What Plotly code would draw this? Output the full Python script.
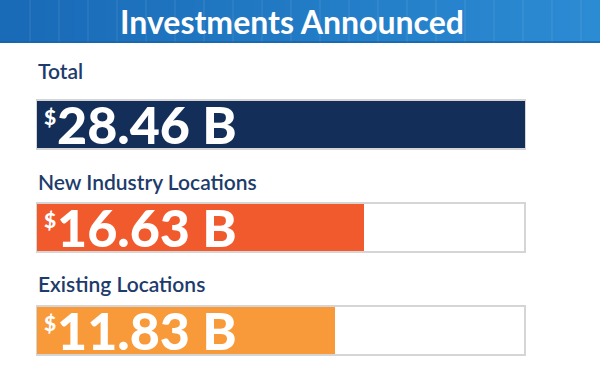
import plotly.graph_objects as go

# ---- data ----
categories = ["Total", "New Industry Locations", "Existing Locations"]
values_b = [28.46, 16.63, 11.83]          # printed amounts, billions of USD
fill_pct = [100, 67, 61]                  # share of each track that is filled
title = "Investments Announced"

# ---- styles ----
bar_colors = ["#132f59", "#f15a2c", "#f99a3a"]
label_color = "#1d3c6b"
track_line = "#d5d5d5"
W, H = 600, 384

ypos = list(range(len(categories)))

fig = go.Figure()
fig.add_trace(go.Bar(
    y=ypos, x=[100] * len(categories), orientation="h", width=0.47,
    marker=dict(color="white", line=dict(color=track_line, width=2)),
    hoverinfo="skip", showlegend=False,
))
fig.add_trace(go.Bar(
    y=ypos, x=fill_pct, orientation="h", width=0.45,
    marker=dict(color=bar_colors, line=dict(width=0)),
    customdata=values_b,
    hovertemplate="$%{customdata} B<extra></extra>", showlegend=False,
))

annotations = []
label_shift = [54, 46, 47]
for i, (cat, v) in enumerate(zip(categories, values_b)):
    annotations.append(dict(
        x=0, y=i, xref="x", yref="y", text=cat, showarrow=False,
        xanchor="left", yanchor="middle", xshift=-1, yshift=label_shift[i],
        font=dict(family="Lato", size=21, color=label_color, weight=600),
    ))
    annotations.append(dict(
        x=0, y=i, xref="x", yref="y", text="$", showarrow=False,
        xanchor="left", yanchor="middle", xshift=5, yshift=8,
        font=dict(family="Lato", size=21, color="white", weight=900),
    ))
    annotations.append(dict(
        x=0, y=i, xref="x", yref="y", text=f"{v:.2f} B", showarrow=False,
        xanchor="left", yanchor="middle", xshift=18, yshift=1,
        font=dict(family="Lato", size=52, color="white", weight=900),
    ))

# header title
annotations.append(dict(
    x=292 / W, y=1 - 21 / H, xref="paper", yref="paper", text=title,
    showarrow=False, xanchor="center", yanchor="middle",
    font=dict(family="Lato", size=32, color="white", weight=700),
))

# header band with horizontal gradient
shapes = []
n = 40
c0 = (0x19, 0x6a, 0xb7)
c1 = (0x2b, 0x8b, 0xd3)
for k in range(n):
    t = k / (n - 1)
    c = tuple(round(a + (b - a) * t) for a, b in zip(c0, c1))
    shapes.append(dict(
        type="rect", xref="paper", yref="paper",
        x0=k / n, x1=(k + 1) / n + 0.002, y0=1 - 43 / H, y1=1,
        fillcolor="rgb(%d,%d,%d)" % c, line=dict(width=0), layer="below",
    ))
# faint grid in header
for gx in range(30, W, 29):
    shapes.append(dict(
        type="line", xref="paper", yref="paper",
        x0=gx / W, x1=gx / W, y0=1 - 43 / H, y1=1,
        line=dict(color="rgba(255,255,255,0.06)", width=2), layer="below",
    ))
shapes.append(dict(
    type="line", xref="paper", yref="paper",
    x0=0, x1=1, y0=1 - 42 / H, y1=1 - 42 / H,
    line=dict(color="#1a64a8", width=1.5), layer="below",
))

px_per_x = (525 - 37) / 100
px_per_y = 103.0
fig.update_layout(
    width=W, height=H, margin=dict(l=0, r=0, t=0, b=0),
    paper_bgcolor="white", plot_bgcolor="white",
    barmode="overlay", bargap=0,
    xaxis=dict(range=[-37 / px_per_x, 100 + (W - 525) / px_per_x],
               visible=False, fixedrange=True),
    yaxis=dict(range=[2 + (H - 330.5) / px_per_y, -124.5 / px_per_y],
               visible=False, fixedrange=True),
    annotations=annotations, shapes=shapes,
)

fig.write_html(
    "out.html",
    config={"displayModeBar": False},
    post_script="document.body.style.margin='0px';document.body.style.overflow='hidden';",
)
